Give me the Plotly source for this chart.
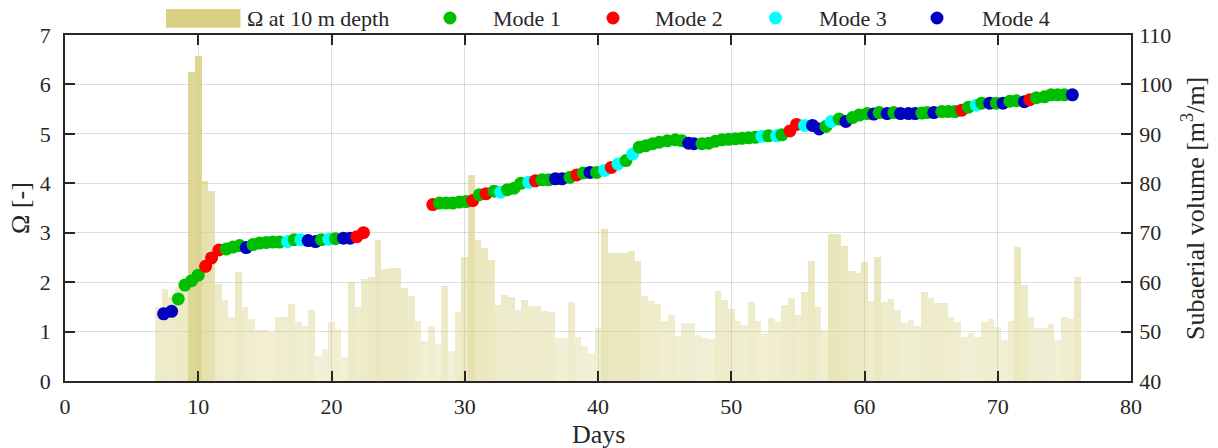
import numpy as np
import plotly.graph_objects as go

# --- Omega at 10 m depth, one value per half-day (bar centres) ---
bar_days = np.arange(7.0, 76.01, 0.5)
omega_10m = [
    1.49, 1.87, 1.70, 1.90, 2.05, 6.26, 6.57, 4.05, 3.85, 1.97,
    1.63, 1.29, 2.20, 1.49, 1.26, 1.04, 1.03, 0.99, 1.29, 1.29,
    1.56, 1.19, 1.12, 1.43, 0.51, 0.64, 1.20, 1.05, 0.49, 2.00,
    1.49, 2.07, 2.10, 2.86, 2.26, 2.29, 2.29, 1.89, 1.72, 1.22,
    0.81, 1.12, 0.75, 1.93, 0.61, 1.40, 2.51, 4.17, 2.86, 2.70,
    2.45, 1.54, 1.74, 1.70, 1.44, 1.64, 1.52, 1.52, 1.42, 1.40,
    0.88, 0.88, 1.60, 0.90, 0.70, 0.57, 1.08, 3.07, 2.59, 2.58,
    2.58, 2.64, 2.42, 1.72, 1.61, 1.55, 1.22, 1.34, 0.92, 1.18,
    1.18, 0.94, 0.88, 0.84, 1.82, 1.63, 1.46, 1.22, 1.14, 1.59,
    1.22, 0.96, 1.28, 1.20, 1.53, 1.67, 1.34, 1.81, 2.42, 1.49,
    1.04, 2.97, 2.97, 2.74, 2.22, 2.18, 2.41, 1.61, 2.50, 1.59,
    1.65, 1.43, 1.18, 1.24, 1.12, 1.80, 1.67, 1.57, 1.57, 1.30,
    1.20, 0.89, 0.98, 0.90, 1.20, 1.26, 1.10, 0.82, 1.22, 2.71,
    1.95, 1.30, 1.07, 1.07, 1.16, 0.82, 1.30, 1.25, 2.11,
]

# --- Subaerial volume per survey, with the classified beach mode ---
vol_days = [
    7.4, 8.0, 8.5, 9.0, 9.5, 10.0, 10.55, 11.0, 11.55, 12.1,
    12.6, 13.1, 13.6, 14.1, 14.6, 15.1, 15.6, 16.1, 16.7, 17.2,
    17.7, 18.25, 18.8, 19.25, 19.8, 20.3, 20.9, 21.4, 21.9, 22.4,
    27.6, 28.1, 28.6, 29.1, 29.6, 30.1, 30.6, 31.1, 31.6, 32.2,
    32.7, 33.2, 33.7, 34.2, 34.8, 35.3, 35.8, 36.3, 36.8, 37.3,
    37.9, 38.4, 38.9, 39.4, 39.9, 40.5, 41.0, 41.5, 42.1, 42.6,
    43.1, 43.6, 44.1, 44.6, 45.2, 45.8, 46.3, 46.8, 47.2, 47.8,
    48.3, 48.8, 49.3, 49.8, 50.3, 50.8, 51.3, 51.8, 52.3, 52.8,
    53.4, 53.8, 54.4, 54.9, 55.5, 56.1, 56.6, 57.1, 57.5, 58.1,
    58.6, 59.1, 59.6, 60.2, 60.7, 61.1, 61.7, 62.2, 62.7, 63.3,
    63.8, 64.3, 64.7, 65.2, 65.8, 66.3, 66.8, 67.3, 67.8, 68.4,
    68.8, 69.4, 69.9, 70.4, 70.9, 71.4, 72.0, 72.4, 72.9, 73.5,
    74.0, 74.5, 75.0, 75.6,
]
vol_m3 = [
    53.6, 54.1, 56.6, 59.4, 60.3, 61.4, 63.2, 64.9, 66.5, 66.7,
    67.1, 67.4, 67.0, 67.6, 67.9, 68.0, 68.1, 68.1, 68.2, 68.6,
    68.6, 68.4, 68.2, 68.6, 68.7, 68.8, 68.9, 68.9, 69.2, 70.0,
    75.7, 76.0, 76.0, 76.0, 76.2, 76.3, 76.5, 77.7, 77.9, 78.4,
    78.2, 78.7, 79.0, 80.0, 80.2, 80.5, 80.7, 80.7, 80.9, 80.9,
    81.2, 81.7, 82.1, 82.2, 82.2, 82.6, 83.2, 83.9, 84.6, 85.9,
    87.3, 87.6, 88.0, 88.3, 88.6, 88.8, 88.6, 88.1, 88.0, 88.0,
    88.1, 88.5, 88.8, 88.9, 89.0, 89.1, 89.2, 89.3, 89.5, 89.6,
    89.6, 89.8, 90.6, 91.9, 91.7, 91.7, 91.0, 91.5, 92.5, 93.0,
    92.5, 93.3, 93.8, 94.1, 94.0, 94.3, 94.1, 94.3, 94.1, 94.1,
    94.1, 94.2, 94.3, 94.3, 94.5, 94.5, 94.5, 94.8, 95.4, 95.8,
    96.2, 96.2, 96.2, 96.2, 96.6, 96.7, 96.5, 96.9, 97.3, 97.5,
    97.9, 97.9, 97.9, 97.9,
]
vol_mode = [
    4, 4, 1, 1, 1, 1, 2, 2, 2, 1,
    1, 1, 4, 1, 1, 1, 1, 1, 3, 1,
    3, 4, 4, 1, 3, 1, 4, 4, 2, 2,
    2, 1, 1, 1, 1, 1, 2, 1, 2, 1,
    3, 1, 1, 1, 3, 2, 1, 1, 4, 4,
    1, 2, 1, 4, 1, 3, 2, 3, 1, 3,
    1, 1, 1, 1, 1, 1, 1, 4, 4, 1,
    1, 1, 1, 1, 1, 1, 1, 1, 3, 1,
    3, 1, 2, 2, 3, 4, 4, 1, 3, 1,
    4, 1, 1, 1, 4, 1, 4, 1, 4, 4,
    4, 1, 1, 4, 1, 1, 1, 2, 1, 3,
    1, 4, 1, 4, 1, 1, 4, 2, 1, 1,
    1, 1, 1, 4,
]

mode_names = ["Mode 1", "Mode 2", "Mode 3", "Mode 4"]
x_ticks = [0, 10, 20, 30, 40, 50, 60, 70, 80]

# --- styling ---
FONT = "Liberation Serif"
AXIS_COLOR = "#262626"
GRID_COLOR = "rgba(0,0,0,0.13)"
BAR_RGB = (216, 209, 133)
MODE_COLORS = {1: "rgb(0,191,0)", 2: "rgb(255,0,0)", 3: "rgb(0,255,255)", 4: "rgb(0,0,191)"}

W, H = 1218, 448
ML, MR, MT, MB = 65, 87, 35, 67
PW, PH = W - ML - MR, H - MT - MB

assert len(omega_10m) == len(bar_days)
assert len(vol_days) == len(vol_m3) == len(vol_mode)


def px(xp):
    """Figure pixel x -> paper fraction."""
    return (xp - ML) / PW


def py(yp):
    """Figure pixel y (from top) -> paper fraction."""
    return (H - MB - yp) / PH


# stronger forcing drawn with a denser fill
omega_arr = np.asarray(omega_10m)
alphas = np.clip(0.27 + 0.095 * omega_arr, 0.0, 0.95)
bar_colors = [f"rgba({BAR_RGB[0]},{BAR_RGB[1]},{BAR_RGB[2]},{a:.3f})" for a in alphas]

fig = go.Figure()
fig.add_trace(go.Bar(
    x=bar_days, y=omega_10m, width=0.5,
    marker=dict(color=bar_colors, line=dict(width=0)),
    name="Ω at 10 m depth", showlegend=False,
))
fig.add_trace(go.Scatter(
    x=vol_days, y=vol_m3, yaxis="y2", mode="markers",
    marker=dict(size=13, color=[MODE_COLORS[m] for m in vol_mode], line=dict(width=0)),
    name="Subaerial volume", showlegend=False,
))

axis_common = dict(
    ticks="inside", ticklen=10, tickwidth=1.5, tickcolor=AXIS_COLOR,
    showline=True, linecolor=AXIS_COLOR, linewidth=1.5,
    zeroline=False, tickfont=dict(family=FONT, size=22, color="#262626"),
)

fig.update_layout(
    width=W, height=H,
    margin=dict(l=ML, r=MR, t=MT, b=MB, pad=0),
    paper_bgcolor="white", plot_bgcolor="white",
    bargap=0, showlegend=False,
    font=dict(family=FONT, color="#262626"),
    xaxis=dict(range=[0, 80], tickvals=x_ticks, mirror="ticks",
               showgrid=True, gridcolor=GRID_COLOR, gridwidth=1.3,
               ticklabelstandoff=5, **axis_common),
    yaxis=dict(range=[0, 7], dtick=1, mirror=False,
               showgrid=True, gridcolor=GRID_COLOR, gridwidth=1.3,
               ticklabelstandoff=8, **axis_common),
    yaxis2=dict(range=[40, 110], dtick=10, overlaying="y", side="right",
                showgrid=False, ticklabelstandoff=2, **axis_common),
)

# axis titles
title_font = dict(family=FONT, size=26, color="#262626")
fig.add_annotation(text="Days", xref="paper", yref="paper", x=px(598), y=py(434),
                   xanchor="center", yanchor="middle", showarrow=False, font=title_font)
fig.add_annotation(text="Ω [-]", xref="paper", yref="paper", x=px(20), y=py(208),
                   xanchor="center", yanchor="middle", textangle=-90, showarrow=False, font=title_font)
fig.add_annotation(text="Subaerial volume [m<sup>3</sup>/m]", xref="paper", yref="paper",
                   x=px(1193), y=py(209), xanchor="center", yanchor="middle",
                   textangle=-90, showarrow=False, font=title_font)

# legend row above the axes
leg_font = dict(family=FONT, size=22, color="#262626")
leg_y = 18
fig.add_shape(type="rect", xref="paper", yref="paper",
              x0=px(166), x1=px(240.5), y0=py(27.7), y1=py(9),
              fillcolor=f"rgb({BAR_RGB[0]},{BAR_RGB[1]},{BAR_RGB[2]})", line=dict(width=0))
fig.add_annotation(text="Ω at 10 m depth", xref="paper", yref="paper", x=px(245), y=py(leg_y),
                   xanchor="left", yanchor="middle", showarrow=False, font=leg_font)
dot_x = [450, 613, 775.5, 937]
text_x = [491, 653, 817, 980]
for mode, name, dx, tx in zip([1, 2, 3, 4], mode_names, dot_x, text_x):
    fig.add_shape(type="circle", xref="paper", yref="paper",
                  x0=px(dx - 6.5), x1=px(dx + 6.5), y0=py(leg_y + 6.5), y1=py(leg_y - 6.5),
                  fillcolor=MODE_COLORS[mode], line=dict(width=0))
    fig.add_annotation(text=name, xref="paper", yref="paper", x=px(tx), y=py(leg_y),
                       xanchor="left", yanchor="middle", showarrow=False, font=leg_font)

fig.write_html("out.html")
